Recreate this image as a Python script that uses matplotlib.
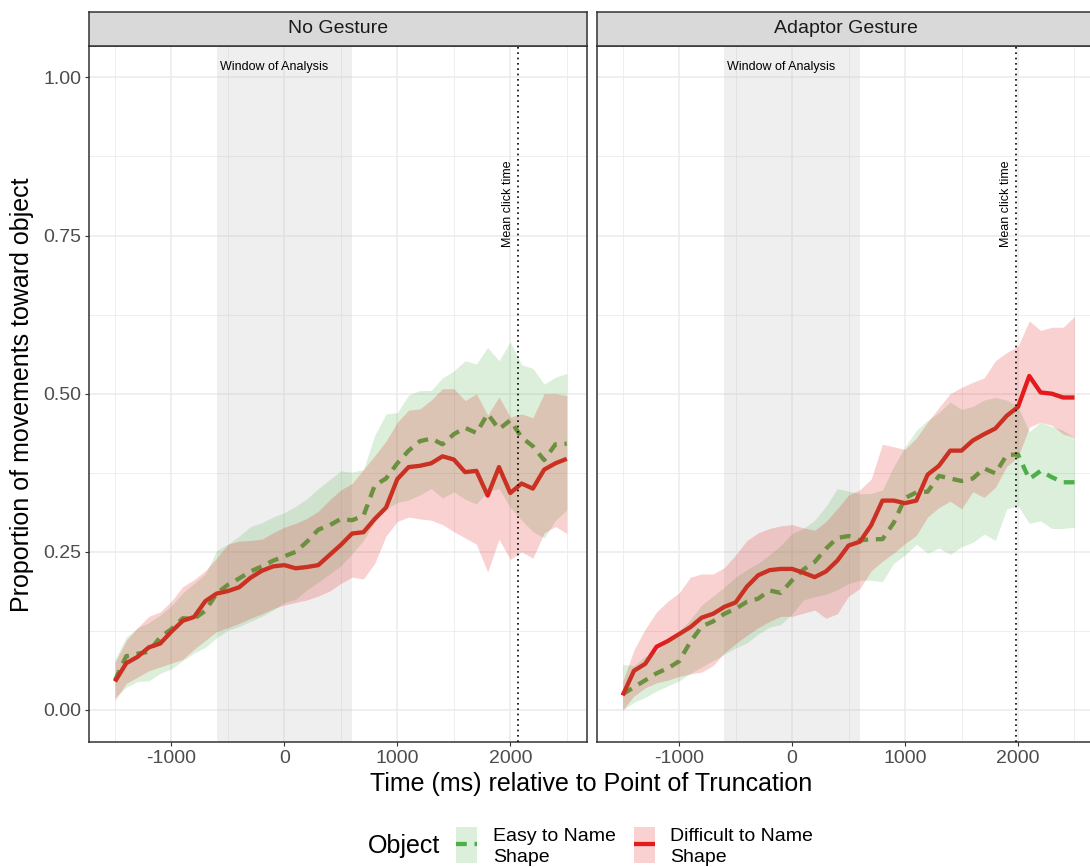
import matplotlib
matplotlib.use('Agg')
import matplotlib.pyplot as plt
from matplotlib.patches import Rectangle
from matplotlib.lines import Line2D

plt.rcParams['font.family'] = ['Liberation Sans', 'DejaVu Sans']

# ---------------- data ----------------
time_ms = list(range(-1500, 2501, 100))
facets = ['No Gesture', 'Adaptor Gesture']
objects = ['Easy to Name\nShape', 'Difficult to Name\nShape']
window_start, window_end = -600, 600
mean_click = [2068, 1982]

# No Gesture
easy_mean_ng = [0.047, 0.085, 0.089, 0.092, 0.115, 0.128, 0.145, 0.144, 0.157, 0.184,
                0.198, 0.208, 0.219, 0.227, 0.236, 0.243, 0.250, 0.266, 0.285, 0.292,
                0.302, 0.300, 0.307, 0.355, 0.366, 0.390, 0.410, 0.425, 0.429, 0.420,
                0.436, 0.446, 0.438, 0.468, 0.444, 0.458, 0.431, 0.417, 0.395, 0.420, 0.421]
easy_hi_ng = [0.080, 0.115, 0.130, 0.138, 0.150, 0.165, 0.185, 0.200, 0.215, 0.252,
              0.262, 0.275, 0.290, 0.296, 0.305, 0.312, 0.322, 0.334, 0.350, 0.364,
              0.378, 0.376, 0.380, 0.434, 0.468, 0.470, 0.498, 0.505, 0.505, 0.525,
              0.536, 0.552, 0.547, 0.573, 0.552, 0.582, 0.546, 0.540, 0.515, 0.526, 0.532]
easy_lo_ng = [0.020, 0.036, 0.045, 0.046, 0.058, 0.065, 0.078, 0.090, 0.099, 0.114,
              0.126, 0.132, 0.140, 0.148, 0.158, 0.170, 0.175, 0.190, 0.202, 0.215,
              0.228, 0.247, 0.268, 0.298, 0.318, 0.328, 0.332, 0.340, 0.350, 0.335,
              0.345, 0.333, 0.326, 0.345, 0.350, 0.320, 0.300, 0.282, 0.272, 0.300, 0.316]
diff_mean_ng = [0.045, 0.074, 0.084, 0.099, 0.105, 0.124, 0.141, 0.147, 0.172, 0.184,
                0.188, 0.194, 0.209, 0.220, 0.227, 0.229, 0.224, 0.226, 0.229, 0.245,
                0.261, 0.279, 0.281, 0.302, 0.320, 0.365, 0.384, 0.386, 0.390, 0.401,
                0.396, 0.376, 0.378, 0.339, 0.384, 0.343, 0.358, 0.350, 0.380, 0.390, 0.397]
diff_hi_ng = [0.075, 0.110, 0.130, 0.148, 0.155, 0.172, 0.195, 0.206, 0.220, 0.240,
              0.262, 0.267, 0.268, 0.270, 0.280, 0.289, 0.295, 0.303, 0.314, 0.332,
              0.348, 0.358, 0.380, 0.402, 0.425, 0.455, 0.474, 0.476, 0.490, 0.508,
              0.508, 0.489, 0.500, 0.466, 0.495, 0.463, 0.468, 0.462, 0.500, 0.500, 0.497]
diff_lo_ng = [0.015, 0.042, 0.052, 0.062, 0.068, 0.074, 0.080, 0.096, 0.110, 0.124,
              0.130, 0.137, 0.145, 0.152, 0.160, 0.166, 0.170, 0.174, 0.180, 0.188,
              0.200, 0.210, 0.207, 0.232, 0.275, 0.298, 0.305, 0.302, 0.300, 0.293,
              0.282, 0.272, 0.262, 0.218, 0.270, 0.238, 0.250, 0.240, 0.280, 0.290, 0.279]

# Adaptor Gesture
easy_mean_ag = [0.025, 0.036, 0.047, 0.058, 0.066, 0.077, 0.108, 0.132, 0.140, 0.152,
                0.160, 0.171, 0.176, 0.189, 0.185, 0.205, 0.222, 0.234, 0.255, 0.272,
                0.275, 0.268, 0.270, 0.270, 0.296, 0.335, 0.344, 0.345, 0.370, 0.366,
                0.362, 0.366, 0.382, 0.374, 0.403, 0.404, 0.365, 0.378, 0.368, 0.360, 0.360]
easy_hi_ag = [0.072, 0.070, 0.085, 0.092, 0.110, 0.125, 0.143, 0.166, 0.180, 0.194,
              0.210, 0.222, 0.232, 0.245, 0.260, 0.279, 0.287, 0.300, 0.322, 0.350,
              0.346, 0.342, 0.342, 0.348, 0.385, 0.416, 0.442, 0.458, 0.470, 0.487,
              0.475, 0.480, 0.490, 0.494, 0.490, 0.480, 0.440, 0.455, 0.448, 0.442, 0.431]
easy_lo_ag = [0.000, 0.012, 0.020, 0.030, 0.038, 0.046, 0.058, 0.068, 0.078, 0.088,
              0.098, 0.106, 0.120, 0.131, 0.135, 0.152, 0.174, 0.179, 0.183, 0.190,
              0.200, 0.205, 0.205, 0.203, 0.232, 0.245, 0.262, 0.248, 0.256, 0.246,
              0.258, 0.265, 0.278, 0.268, 0.318, 0.323, 0.295, 0.299, 0.287, 0.287, 0.289]
diff_mean_ag = [0.023, 0.062, 0.073, 0.100, 0.109, 0.120, 0.131, 0.146, 0.152, 0.163,
                0.170, 0.195, 0.213, 0.221, 0.223, 0.223, 0.217, 0.210, 0.219, 0.236,
                0.260, 0.266, 0.292, 0.331, 0.331, 0.327, 0.331, 0.372, 0.386, 0.410,
                0.410, 0.426, 0.436, 0.445, 0.465, 0.479, 0.528, 0.502, 0.500, 0.494, 0.494]
diff_hi_ag = [0.045, 0.095, 0.128, 0.155, 0.172, 0.185, 0.210, 0.215, 0.215, 0.225,
              0.245, 0.268, 0.280, 0.287, 0.291, 0.293, 0.288, 0.284, 0.298, 0.318,
              0.340, 0.348, 0.365, 0.420, 0.416, 0.412, 0.430, 0.455, 0.478, 0.500,
              0.510, 0.518, 0.525, 0.552, 0.565, 0.575, 0.615, 0.600, 0.605, 0.605, 0.622]
diff_lo_ag = [0.000, 0.022, 0.035, 0.043, 0.047, 0.053, 0.057, 0.060, 0.070, 0.090,
              0.105, 0.118, 0.130, 0.140, 0.148, 0.148, 0.153, 0.158, 0.145, 0.152,
              0.180, 0.192, 0.220, 0.235, 0.248, 0.263, 0.276, 0.305, 0.320, 0.330,
              0.318, 0.345, 0.336, 0.352, 0.385, 0.400, 0.447, 0.455, 0.450, 0.436, 0.431]

panels = [
    dict(easy=(easy_mean_ng, easy_lo_ng, easy_hi_ng), diff=(diff_mean_ng, diff_lo_ng, diff_hi_ng)),
    dict(easy=(easy_mean_ag, easy_lo_ag, easy_hi_ag), diff=(diff_mean_ag, diff_lo_ag, diff_hi_ag)),
]

# ---------------- style ----------------
GREEN = '#4DAF4A'
RED = '#E41A1C'
RIB_ALPHA = 0.2
LW = 3.1
DASH = (2.5, 1.8)
W, H = 1090, 867


def fx(x):
    return x / W


def fy(y):
    return 1 - y / H


fig = plt.figure(figsize=(W / 100, H / 100), dpi=100)
fig.patch.set_facecolor('white')

XLIM = (-1730, 2682)
YLIM = (-0.05, 1.05)
panel_left = [89.0, 596.7]
panel_w = 498.3
panel_top, panel_bot = 45.8, 741.6
strip_top = 11.7

for i, facet in enumerate(facets):
    ax = fig.add_axes([fx(panel_left[i]), fy(panel_bot), panel_w / W, (panel_bot - panel_top) / H])
    ax.set_xlim(*XLIM)
    ax.set_ylim(*YLIM)
    ax.set_axisbelow(True)
    ax.set_xticks([-1000, 0, 1000, 2000])
    ax.set_xticklabels(['-1000', '0', '1000', '2000'])
    ax.set_xticks([-1500, -500, 500, 1500, 2500], minor=True)
    ax.set_yticks([0, 0.25, 0.5, 0.75, 1.0])
    ax.set_yticklabels(['0.00', '0.25', '0.50', '0.75', '1.00'])
    ax.set_yticks([0.125, 0.375, 0.625, 0.875], minor=True)
    ax.grid(which='major', color='#ebebeb', lw=1.1)
    ax.grid(which='minor', color='#ebebeb', lw=0.6)
    ax.tick_params(which='minor', length=0)
    ax.tick_params(which='major', length=3.2, width=0.8, color='#333333',
                   labelcolor='#4d4d4d', labelsize=14, pad=2.5)
    if i == 1:
        ax.tick_params(axis='y', which='both', length=0, labelleft=False)
    for s in ax.spines.values():
        s.set_color('#333333')
        s.set_linewidth(1.1)

    ax.axvspan(window_start, window_end, color='#bebebe', alpha=0.23, lw=0, zorder=1)

    em, elo, ehi = panels[i]['easy']
    dm, dlo, dhi = panels[i]['diff']
    ax.plot(time_ms, em, color=GREEN, lw=LW, dashes=DASH, dash_capstyle='butt', zorder=2)
    ax.plot(time_ms, dm, color=RED, lw=LW, solid_capstyle='butt', zorder=2)
    ax.fill_between(time_ms, elo, ehi, color=GREEN, alpha=RIB_ALPHA, lw=0, zorder=3)
    ax.fill_between(time_ms, dlo, dhi, color=RED, alpha=RIB_ALPHA, lw=0, zorder=3)

    ax.axvline(mean_click[i], color='black', ls=(0, (1, 2.2)), lw=1.2, zorder=4)
    ax.text(mean_click[i] - 88, 0.80, 'Mean click time', rotation=90, ha='center', va='center',
            fontsize=9, color='black', zorder=5)
    ax.text(-95, 1.016, 'Window of Analysis', ha='center', va='center', fontsize=9,
            color='black', zorder=5)

    sax = fig.add_axes([fx(panel_left[i]), fy(panel_top), panel_w / W, (panel_top - strip_top) / H])
    sax.set_facecolor('#d9d9d9')
    sax.set_xticks([])
    sax.set_yticks([])
    for s in sax.spines.values():
        s.set_color('#333333')
        s.set_linewidth(1.1)
    sax.text(0.5, 0.5, facet, ha='center', va='center', fontsize=14, color='#1a1a1a',
             transform=sax.transAxes)

fig.text(fx(591), fy(784), 'Time (ms) relative to Point of Truncation', ha='center', va='center',
         fontsize=18, color='black')
fig.text(fx(22), fy(395), 'Proportion of movements toward object', ha='center', va='center',
         rotation=90, fontsize=18, color='black')

# ---------------- legend ----------------
fig.text(fx(368), fy(846), 'Object', ha='left', va='center', fontsize=18, color='black')
key_x = [456, 634]
label_x = [493, 670]
cols = [GREEN, RED]
for k in range(2):
    fig.add_artist(Rectangle((fx(key_x[k]), fy(862.7)), 21 / W, 36 / H, transform=fig.transFigure,
                             facecolor=cols[k], alpha=RIB_ALPHA, lw=0))
    if k == 0:
        ln = Line2D([fx(key_x[k]), fx(key_x[k] + 21)], [fy(844), fy(844)], transform=fig.transFigure,
                    color=cols[k], lw=LW, dashes=DASH, dash_capstyle='butt')
    else:
        ln = Line2D([fx(key_x[k]), fx(key_x[k] + 21)], [fy(844), fy(844)], transform=fig.transFigure,
                    color=cols[k], lw=LW, solid_capstyle='butt')
    fig.add_artist(ln)
    fig.text(fx(label_x[k]), fy(847), objects[k], ha='left', va='center', fontsize=14,
             color='black', linespacing=1.32)

fig.savefig('out.png', dpi=100)
